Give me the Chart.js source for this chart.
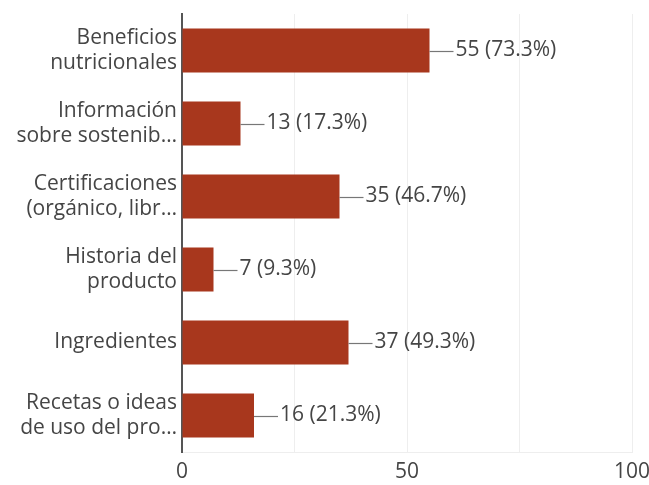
<!DOCTYPE html>
<html>
<head>
<meta charset="utf-8">
<script src="https://cdn.jsdelivr.net/npm/chart.js@4"></script>
<style>
  body { margin: 0; background: #fff; }
  #grafico { display: block; }
</style>
</head>
<body>
<canvas id="grafico" width="649" height="485"></canvas>
<script>
const categorias = [
  ['Beneficios', 'nutricionales'],
  ['Información', 'sobre sostenib…'],
  ['Certificaciones', '(orgánico, libr…'],
  ['Historia del', 'producto'],
  ['Ingredientes'],
  ['Recetas o ideas', 'de uso del pro…']
];
const respuestas = [55, 13, 35, 7, 37, 16];
const porcentajes = ['73.3%', '17.3%', '46.7%', '9.3%', '49.3%', '21.3%'];
const ticksVisibles = [0, 50, 100];

const fuente = '"Open Sans", sans-serif';
const gris = '#454545';

// etiqueta con linea guia al final de cada barra
const etiquetas = {
  id: 'etiquetas',
  afterDatasetsDraw(chart) {
    const ctx = chart.ctx;
    const meta = chart.getDatasetMeta(0);
    ctx.save();
    ctx.font = '21px ' + fuente;
    ctx.fillStyle = gris;
    ctx.strokeStyle = '#777';
    ctx.lineWidth = 1.2;
    ctx.textBaseline = 'middle';
    meta.data.forEach((bar, i) => {
      const x = bar.x, y = Math.round(bar.y) + 0.5;
      ctx.beginPath();
      ctx.moveTo(x, y);
      ctx.lineTo(x + 24, y);
      ctx.stroke();
      ctx.fillText(respuestas[i] + ' (' + porcentajes[i] + ')', x + 26, bar.y);
    });
    ctx.restore();
  }
};

const ctx = document.getElementById('grafico').getContext('2d');
new Chart(ctx, {
  type: 'bar',
  data: {
    labels: categorias,
    datasets: [{
      data: respuestas,
      backgroundColor: '#a8371d',
      categoryPercentage: 1,
      barPercentage: 0.6
    }]
  },
  options: {
    indexAxis: 'y',
    responsive: false,
    animation: false,
    layout: { padding: { top: 14, right: 17, left: 0, bottom: 0 } },
    plugins: { legend: { display: false }, tooltip: { enabled: false } },
    scales: {
      x: {
        min: 0,
        max: 100,
        ticks: {
          stepSize: 25,
          color: gris,
          font: { family: fuente, size: 21 },
          padding: 7,
          callback: v => ticksVisibles.includes(v) ? v : ''
        },
        grid: { color: '#eeeeee', drawTicks: false },
        border: { color: '#eeeeee' },
        afterFit(scale) {
          scale.height = 33;
          scale.paddingLeft = 0;
          scale.paddingRight = 0;
        }
      },
      y: {
        ticks: {
          color: gris,
          font: { family: fuente, size: 21, lineHeight: 1.19 },
          padding: 5
        },
        grid: { display: false, drawTicks: false },
        border: { color: '#555', width: 2 },
        afterFit(scale) {
          scale.width = 182;
          scale.paddingTop = 0;
          scale.paddingBottom = 0;
        }
      }
    }
  },
  plugins: [etiquetas]
});
</script>
</body>
</html>
